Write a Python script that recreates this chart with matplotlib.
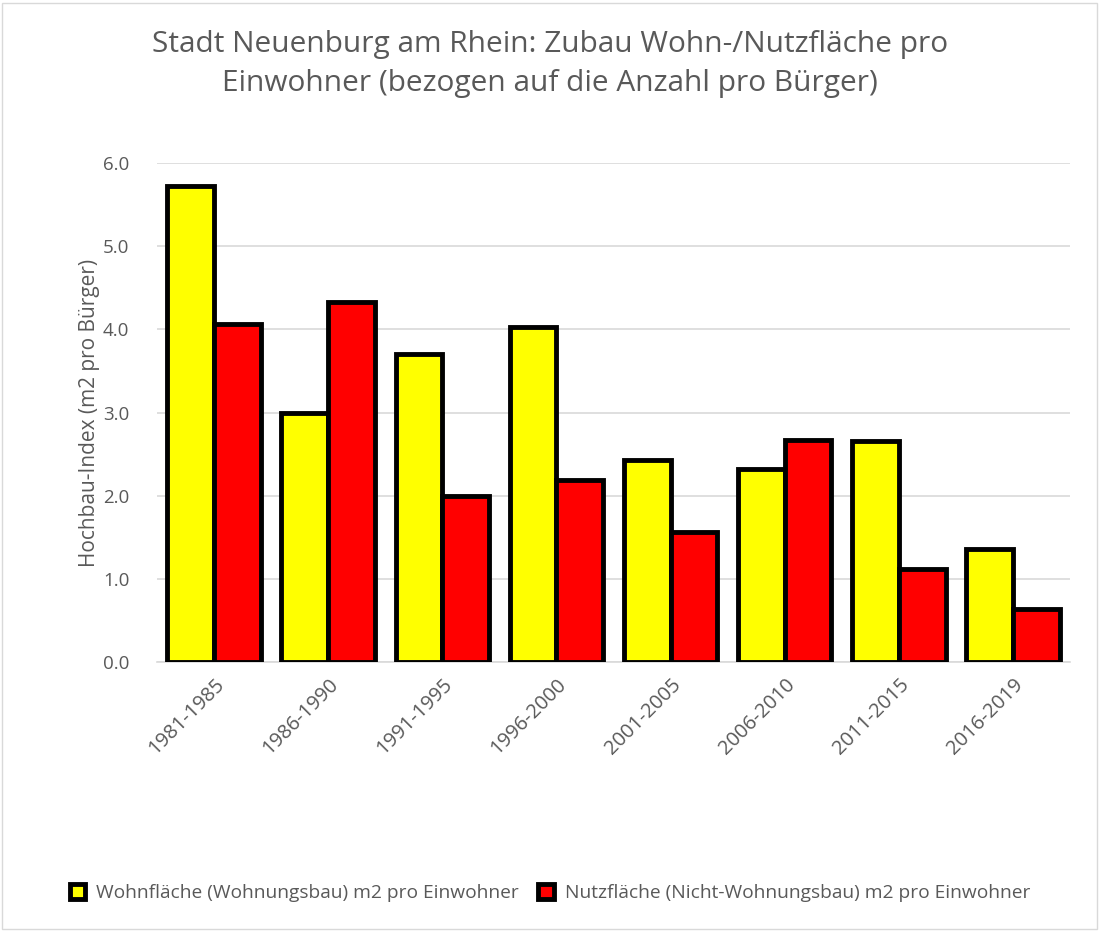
import matplotlib
matplotlib.use("Agg")
import matplotlib.pyplot as plt
import numpy as np
from matplotlib.patches import Rectangle

plt.rcParams["font.family"] = ["Open Sans", "DejaVu Sans"]

# -- data --
periods = ["1981-1985", "1986-1990", "1991-1995", "1996-2000",
           "2001-2005", "2006-2010", "2011-2015", "2016-2019"]
wohnflaeche = [5.72, 3.00, 3.70, 4.03, 2.43, 2.32, 2.66, 1.36]
nutzflaeche = [4.07, 4.33, 1.99, 2.19, 1.56, 2.67, 1.12, 0.64]

series_labels = ["Wohnfläche (Wohnungsbau) m2 pro Einwohner",
                 "Nutzfläche (Nicht-Wohnungsbau) m2 pro Einwohner"]
title = "Stadt Neuenburg am Rhein: Zubau Wohn-/Nutzfläche pro\nEinwohner (bezogen auf die Anzahl pro Bürger)"
ylabel = "Hochbau-Index (m2 pro Bürger)"

text_gray = "#595959"
grid_gray = "#d9d9d9"

fig = plt.figure(figsize=(11, 9.31), dpi=100)
# plot area: x 157..1070 px, y 163..662 px
ax = fig.add_axes([157 / 1100, 1 - 662 / 931, 913 / 1100, 499 / 931])

x = np.arange(len(periods))
w = 0.41
ax.bar(x - w / 2, wohnflaeche, w, color="#ffff00", edgecolor="black",
       linewidth=3.5, label=series_labels[0], zorder=3)
ax.bar(x + w / 2, nutzflaeche, w, color="#ff0000", edgecolor="black",
       linewidth=3.5, label=series_labels[1], zorder=3)

ax.set_xlim(-0.5, len(periods) - 0.5)
ax.set_ylim(0, 6.0)
yticks = np.arange(0, 6.01, 1.0)
ax.set_yticks(yticks)
ax.set_yticklabels([f"{v:.1f}" for v in yticks])
ax.set_xticks(x)
ax.set_xticklabels(periods, rotation=45, ha="right", rotation_mode="anchor")

ax.tick_params(axis="y", length=0, labelsize=13.5, labelcolor=text_gray, pad=20)
ax.tick_params(axis="x", length=0, labelsize=14.5, labelcolor=text_gray, pad=9)
ax.grid(axis="y", color=grid_gray, linewidth=1.2, zorder=0)
for side in ["top", "right", "left"]:
    ax.spines[side].set_visible(False)
ax.spines["bottom"].set_color(grid_gray)
ax.spines["bottom"].set_linewidth(1.2)

ax.set_ylabel(ylabel, fontsize=15, color=text_gray, labelpad=2)
fig.text(0.5, 1 - 64 / 931, title, ha="center", va="center", fontsize=21.5,
         color=text_gray, linespacing=1.42)

fig.legend(loc="center", bbox_to_anchor=(0.5, 1 - 893 / 931),
           ncol=2, frameon=False, fontsize=13.8, labelcolor=text_gray,
           handlelength=0.8, handleheight=0.8, handletextpad=0.6, columnspacing=1.0)

# light frame around the whole chart area
fig.patches.append(Rectangle((0.002, 0.002), 0.995, 0.995, transform=fig.transFigure,
                             fill=False, edgecolor="#d9d9d9", linewidth=1.0))

fig.savefig("out.png", dpi=100)
